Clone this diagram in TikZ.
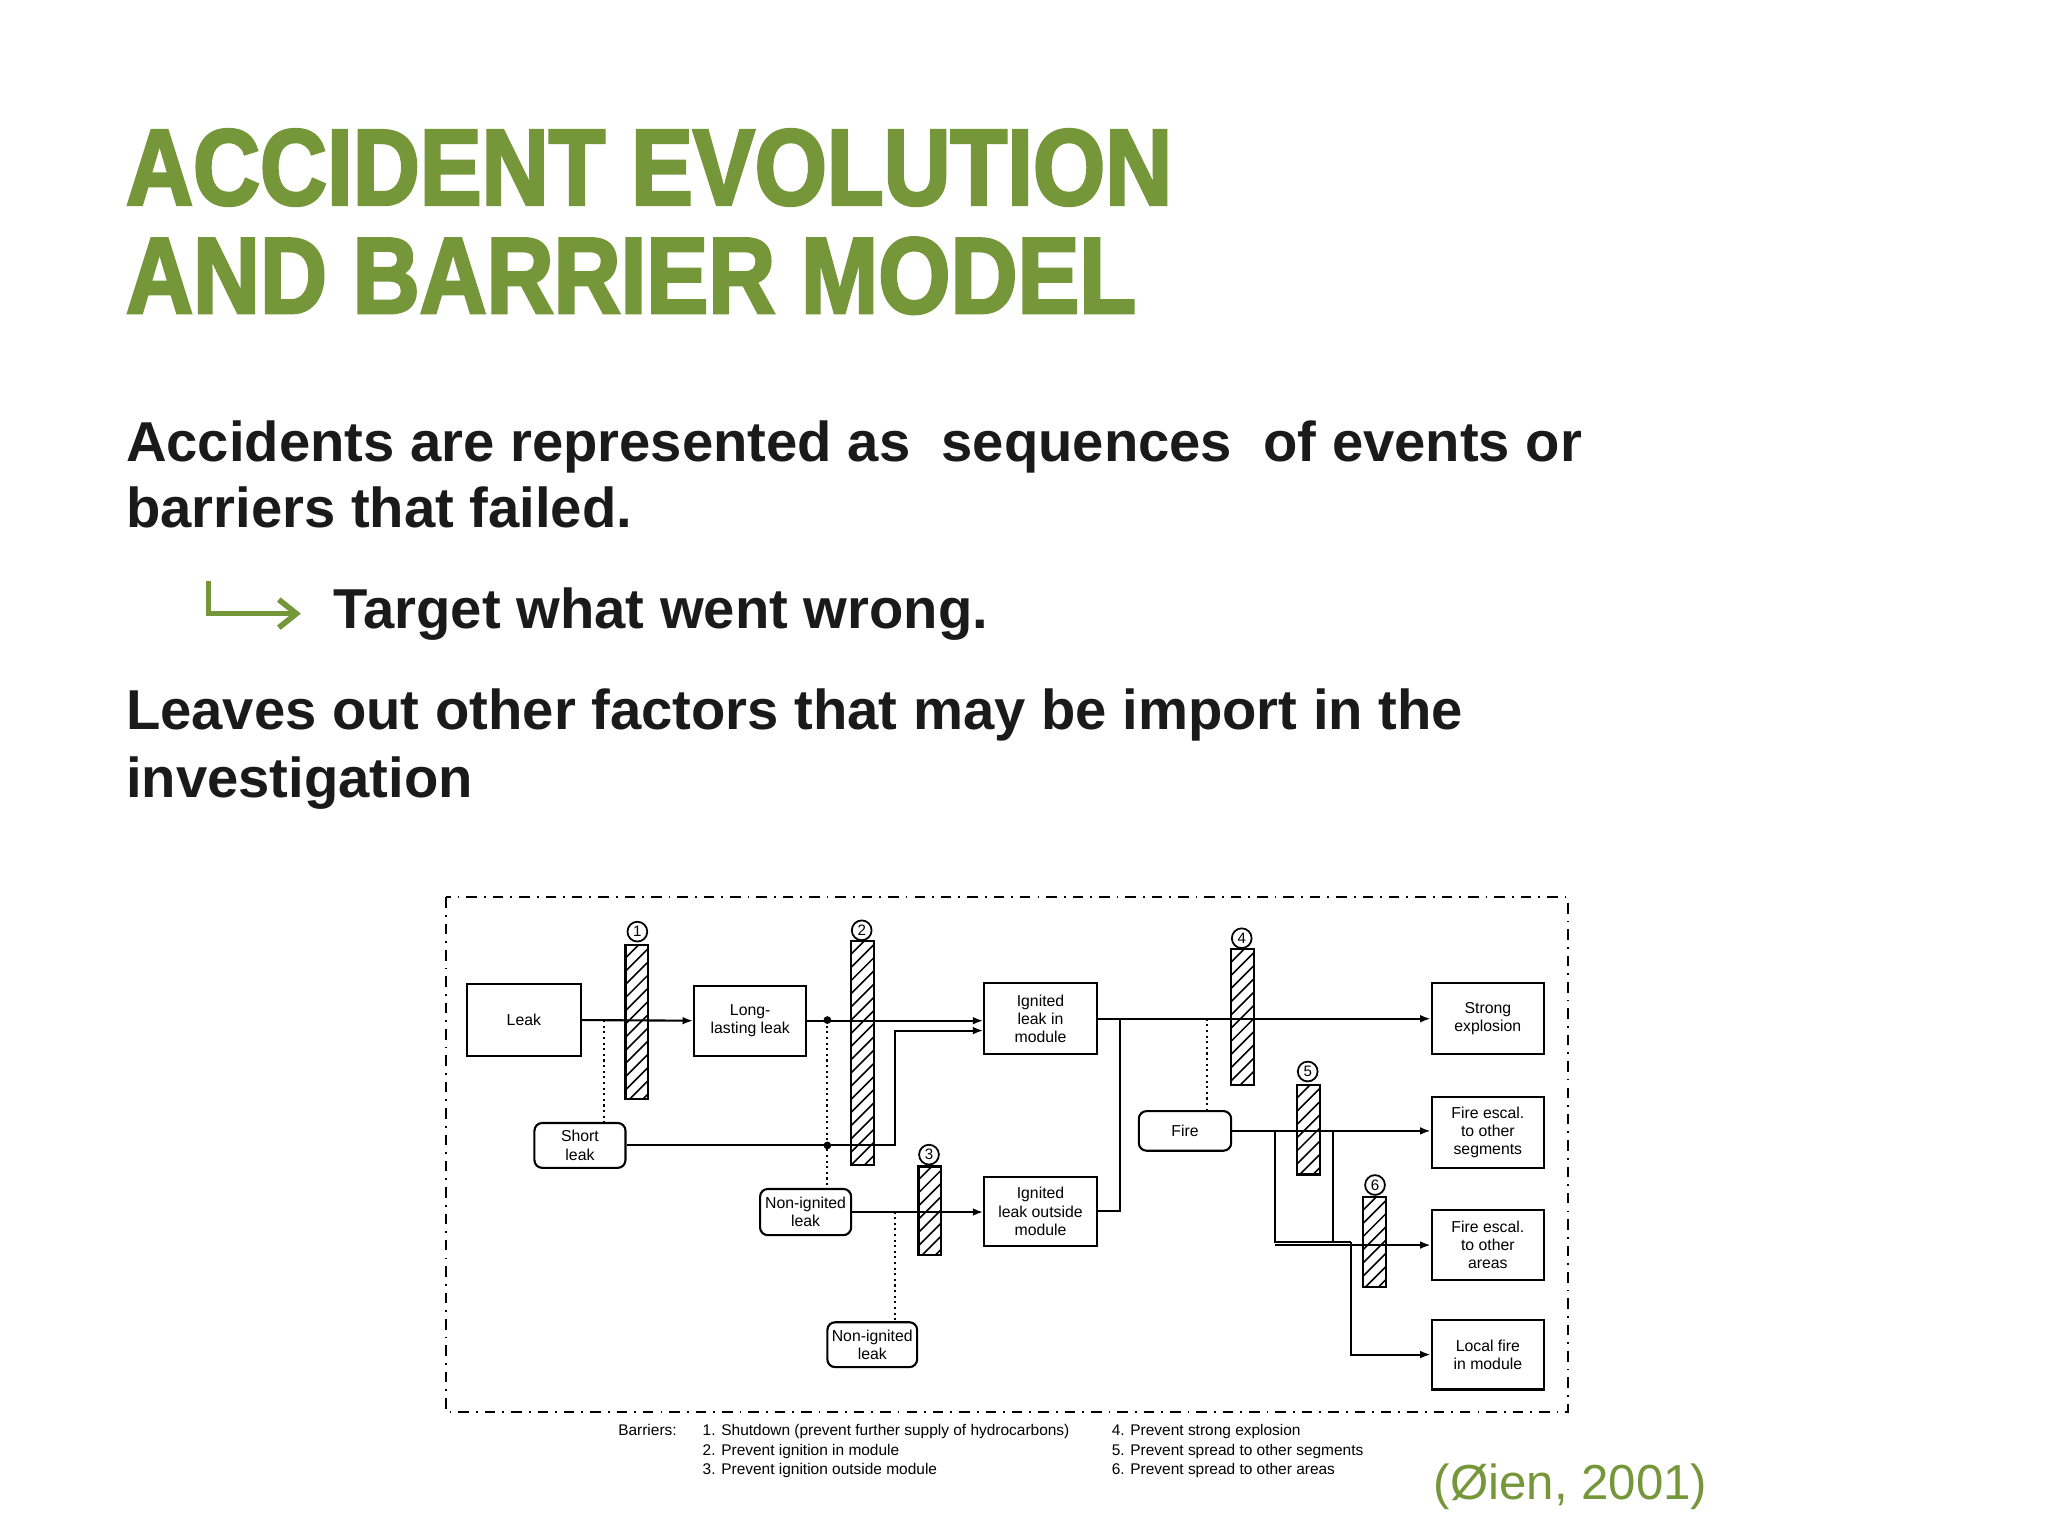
\documentclass[tikz,border=0pt]{standalone}
\usepackage{fontspec}
\setmainfont{Liberation Sans}
\newfontfamily\titlefont{Liberation Sans}[BoldFeatures={FakeBold=3}]
\usetikzlibrary{arrows.meta}
\definecolor{olive}{HTML}{76963A}
\definecolor{ink}{HTML}{1A1A1A}
\def\u{0.013196cm}
\begin{document}
\begin{tikzpicture}[x=\u,y=-\u,
  box/.style={draw,line width=0.6pt,align=center,inner sep=0pt,font=\fontsize{4.5}{5.2}\selectfont},
  rbox/.style={box,rounded corners=2.2pt},
  arr/.style={line width=0.6pt,-{Latex[length=3pt,width=2.2pt]}},
  ln/.style={line width=0.6pt},
  dl/.style={line width=0.6pt,densely dotted},
  bnum/.style={circle,draw,line width=0.5pt,inner sep=0pt,minimum size=15*\u,font=\fontsize{4.3}{4}\selectfont},
  dot/.style={circle,fill,inner sep=0pt,minimum size=2.2pt}]
\useasboundingbox (0,0) rectangle (1552,1164);
\fill[white] (0,0) rectangle (1552,1164);
% title
\node[anchor=base west,text=olive,inner sep=0pt,font=\fontsize{30}{30}\selectfont\titlefont\bfseries] (t1) at (95,155) {\scalebox{0.88}[1.02]{ACCIDENT EVOLUTION}};
\node[anchor=base west,text=olive,inner sep=0pt,font=\fontsize{30}{30}\selectfont\titlefont\bfseries] (t2) at (95,237) {\scalebox{0.88}[1.02]{AND BARRIER MODEL}};
% body
\begin{scope}[every node/.style={anchor=base west,text=ink,inner sep=0pt,font=\fontsize{16}{16}\selectfont\bfseries}]
\node (b1) at (95,350) {Accidents are represented as \ sequences \ of events or};
\node (b2) at (95,400) {barriers that failed.};
\node (b3) at (252,476) {Target what went wrong.};
\node (b4) at (95,553) {Leaves out other factors that may be import in the};
\node (b5) at (95,604) {investigation};
\end{scope}
\coordinate (a0) at (158,440);
\coordinate (a1) at (228,465);
\draw[olive,line width=1.6pt,-{Straight Barb[length=5pt,width=8pt]}] (a0) |- (a1);
% frame
\draw[line width=0.5pt,dash dot] (338,680) rectangle (1188,1070);
% boxes
\node[box,minimum width=86*\u,minimum height=54*\u] (leak) at (397,773) {Leak};
\node[box,minimum width=85*\u,minimum height=53*\u] (long) at (568.5,773.5) {Long-\\lasting leak};
\node[rbox,minimum width=69*\u,minimum height=34*\u] (short) at (439.5,868) {Short\\leak};
\node[box,minimum width=85*\u,minimum height=54*\u] (ignin) at (788.5,772) {Ignited\\leak in\\module};
\node[rbox,minimum width=69*\u,minimum height=35*\u] (non1) at (610.5,918.5) {Non-ignited\\leak};
\node[box,minimum width=85*\u,minimum height=52*\u] (ignout) at (788.5,918) {Ignited\\leak outside\\module};
\node[rbox,minimum width=68*\u,minimum height=34*\u] (non2) at (661,1019) {Non-ignited\\leak};
\node[rbox,minimum width=70*\u,minimum height=30*\u] (fire) at (898,857) {Fire};
\node[box,minimum width=85*\u,minimum height=54*\u] (strong) at (1127.5,772) {Strong\\explosion};
\node[box,minimum width=85*\u,minimum height=54*\u] (fseg) at (1127.5,858) {Fire escal.\\to other\\segments};
\node[box,minimum width=85*\u,minimum height=53*\u] (farea) at (1127.5,943.5) {Fire escal.\\to other\\areas};
\node[box,minimum width=85*\u,minimum height=53*\u] (local) at (1127.5,1026.5) {Local fire\\in module};
% connectors
\draw[arr] (leak.east) -- (long.west);
\coordinate (c1) at (458,773);
\draw[dl] (c1) -- (short.north -| c1);
\draw[arr] (long.east) -- (ignin.west |- long.east);
\coordinate (d1) at (627,773);
\draw[dl] (d1) -- (non1.north -| d1);
\coordinate (k1) at (678,781);
\draw[arr] (short.east) -| (k1) -- (k1 -| ignin.west);
\node[dot] (dt1) at (d1) {};
\node[dot] (dt2) at (short.east -| d1) {};
\draw[arr] (non1.east) -- (ignout.west |- non1.east);
\coordinate (d3) at (678,918);
\draw[dl] (d3) -- (non2.north -| d3);
\draw[arr] (ignin.east) -- (strong.west);
\coordinate (j1) at (849,772);
\draw[ln] (ignout.east) -| (j1);
\coordinate (d4) at (915,772);
\draw[dl] (d4) -- (fire.north -| d4);
\draw[arr] (fire.east) -- (fseg.west |- fire.east);
\coordinate (e1) at (966,857);
\coordinate (e2) at (1010,857);
\coordinate (e3) at (1024,941);
\draw[ln] (e1) |- (e3);
\draw[ln] (e2) -- (e2 |- e3);
\draw[arr] (e1 |- farea.west) -- (farea.west);
\draw[arr] (e3) |- (local.west);
% barriers
\foreach \xa/\ya/\xb/\yb/\cx/\cy/\n in {474/716/491/833/483/706/1, 645/713/662/883/653/705/2, 696/884/713/951/704/875/3, 933/719/950/822/941/711/4, 983/822/1000/890/991/812/5, 1033/907/1050/975/1042/898/6}{
  \begin{scope}\clip (\xa,\ya) rectangle (\xb,\yb);
  \foreach \k in {0,10,...,260} \draw[line width=0.45pt] (\xa,\ya+\k) -- ++(17,-17);
  \end{scope}
  \draw[line width=0.6pt] (\xa,\ya) rectangle (\xb,\yb);
  \node[bnum,fill=white] (bn\n) at (\cx,\cy) {\n};
}
% legend
\begin{scope}[every node/.style={anchor=base west,inner sep=0pt,font=\fontsize{4.4}{5}\selectfont}]
\node (lg0) at (468,1088) {Barriers:};
\node (lg1) at (532,1088) {1. Shutdown (prevent further supply of hydrocarbons)};
\node (lg2) at (532,1103) {2. Prevent ignition in module};
\node (lg3) at (532,1117) {3. Prevent ignition outside module};
\node (lg4) at (842,1088) {4. Prevent strong explosion};
\node (lg5) at (842,1103) {5. Prevent spread to other segments};
\node (lg6) at (842,1117) {6. Prevent spread to other areas};
\end{scope}
\node[anchor=base west,inner sep=0pt,text=olive,font=\fontsize{14}{14}\selectfont] (cite) at (1086,1136) {(Øien, 2001)};
\end{tikzpicture}
\end{document}
